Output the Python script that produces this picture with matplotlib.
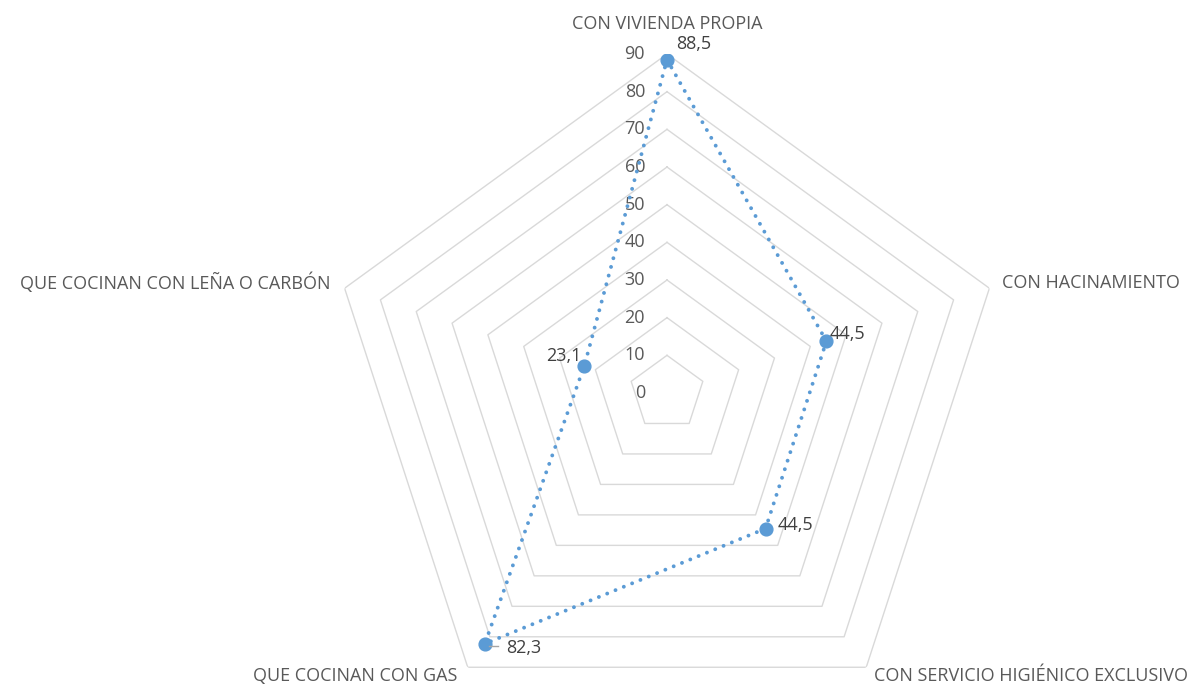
import numpy as np
import matplotlib
matplotlib.use("Agg")
import matplotlib.pyplot as plt
from matplotlib.transforms import offset_copy

categories = ["CON VIVIENDA PROPIA", "CON HACINAMIENTO",
              "CON SERVICIO HIGIÉNICO EXCLUSIVO", "QUE COCINAN CON GAS",
              "QUE COCINAN CON LEÑA O CARBÓN"]
values = [88.5, 44.5, 44.5, 82.3, 23.1]
value_labels = ["88,5", "44,5", "44,5", "82,3", "23,1"]
rings = [0, 10, 20, 30, 40, 50, 60, 70, 80, 90]

FONT = "Open Sans"
FS = 13
TXT = "#595959"
BLUE = "#5B9BD5"
GRID = "#D9D9D9"

W, H = 1191, 686
fig = plt.figure(figsize=(W / 100, H / 100), dpi=100)
cx, cy, R = 667, 393, 339
ax = fig.add_axes([(cx - R) / W, (H - cy - R) / H, 2 * R / W, 2 * R / H],
                  projection="polar")
ax.set_theta_offset(np.pi / 2)
ax.set_theta_direction(-1)
ax.set_ylim(0, 90)
ax.grid(False)
ax.set_xticks([])
ax.set_yticks([])
ax.spines["polar"].set_visible(False)
ax.patch.set_alpha(0)

n = len(categories)
theta = np.arange(n) * 2 * np.pi / n
theta_c = np.append(theta, theta[0])

for r in rings[1:]:
    ax.plot(theta_c, [r] * (n + 1), color=GRID, lw=1.0, zorder=1)

# radial tick labels
tr = offset_copy(ax.transData, fig=fig, x=-22, y=0, units="dots")
for r in rings:
    ax.text(0, r, str(r), transform=tr, ha="right", va="center",
            fontsize=FS, color=TXT, family=FONT)

vals_c = np.append(values, values[0])
ax.plot(theta_c, vals_c, color=BLUE, lw=2.8,
        linestyle=(0, (0.01, 2.3)), dash_capstyle="round", zorder=3)
ax.plot(theta, values, "o", color=BLUE, markersize=9.2, zorder=4)

# category labels
cat_off = [(0, 30, "center"), (13, 5, "left"), (8, -9, "left"),
           (-10, -9, "right"), (-14, 5, "right")]
for t, lab, (dx, dy, ha) in zip(theta, categories, cat_off):
    trc = offset_copy(ax.transData, fig=fig, x=dx, y=dy, units="dots")
    ax.text(t, 90, lab, transform=trc, ha=ha, va="center",
            fontsize=FS, color=TXT, family=FONT)

# data labels
val_off = [(9, 16, "left"), (3, 7, "left"), (12, 4, "left"),
           (21, -4, "left"), (-3, 10, "right")]
for t, v, lab, (dx, dy, ha) in zip(theta, values, value_labels, val_off):
    trv = offset_copy(ax.transData, fig=fig, x=dx, y=dy, units="dots")
    ax.text(t, v, lab, transform=trv, ha=ha, va="center",
            fontsize=FS, color="#404040", family=FONT, zorder=5)

# leader line for 82,3
trl1 = offset_copy(ax.transData, fig=fig, x=4, y=-2, units="dots")
trl2 = offset_copy(ax.transData, fig=fig, x=13, y=-2, units="dots")
p1 = trl1.transform((theta[3], values[3]))
p2 = trl2.transform((theta[3], values[3]))
fig.add_artist(plt.Line2D([p1[0] / W, p2[0] / W], [p1[1] / H, p2[1] / H],
                          transform=fig.transFigure, color="#A6A6A6", lw=1.0))

fig.savefig("out.png", dpi=100)
